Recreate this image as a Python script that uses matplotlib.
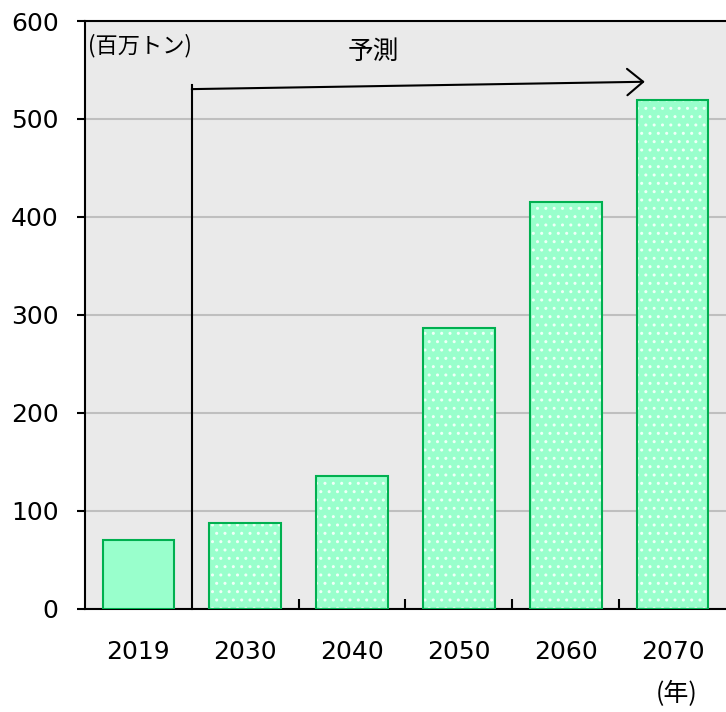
import matplotlib
matplotlib.use("Agg")
import matplotlib.pyplot as plt
import numpy as np

# data
years = ["2019", "2030", "2040", "2050", "2060", "2070"]
values = [70, 88, 136, 287, 415, 519]
forecast = [False, True, True, True, True, True]
yticks = [0, 100, 200, 300, 400, 500, 600]

jp = ["Noto Sans CJK JP", "DejaVu Sans"]
num = ["DejaVu Sans"]
plt.rcParams["font.family"] = jp
plt.rcParams["hatch.linewidth"] = 1.0

fig = plt.figure(figsize=(7.26, 7.12), dpi=100)
ax = fig.add_axes([0.117, 0.1447, 0.883, 0.8258])
ax.set_facecolor("#EAEAEA")

x = np.arange(len(years))
face = "#99FFCC"
edge = "#00B050"
for xi, v, f in zip(x, values, forecast):
    if f:
        ax.bar(xi, v, width=0.67, color=face, hatch="..", edgecolor="#F0FFF8",
               linewidth=0, zorder=2)
        ax.bar(xi, v, width=0.67, facecolor="none", edgecolor=edge,
               linewidth=1.5, zorder=3)
    else:
        ax.bar(xi, v, width=0.67, color=face, edgecolor=edge,
               linewidth=1.5, zorder=3)

ax.set_xlim(-0.5, len(years) - 0.5)
ax.set_ylim(0, 600)
ax.set_yticks(yticks)
ax.set_yticklabels([str(t) for t in yticks], fontsize=18, family=num)
ax.set_xticks(x)
ax.set_xticklabels(years, fontsize=18, family=num)
ax.tick_params(axis="x", which="major", length=0, pad=22)
ax.tick_params(axis="y", which="major", direction="out", length=6, width=1.5, pad=13)
ax.set_xticks(x[1:-1] + 0.5, minor=True)
ax.tick_params(axis="x", which="minor", direction="in", length=7, width=1.5)

ax.yaxis.grid(True, color="#BFBFBF", linewidth=1.5, zorder=1)
ax.set_axisbelow(True)
for s in ["left", "bottom", "top"]:
    ax.spines[s].set_linewidth(1.5)
    ax.spines[s].set_color("black")
ax.spines["right"].set_visible(False)

# forecast marker
ax.plot([0.5, 0.5], [0, 535], color="black", linewidth=1.5, zorder=4, clip_on=False)
ax.annotate("", xy=(4.74, 538), xytext=(0.5, 530.5),
            arrowprops=dict(arrowstyle="->,head_length=1.15,head_width=0.95",
                            color="black", lw=1.5, shrinkA=0, shrinkB=0), zorder=4)
ax.text(2.2, 568, "予測", fontsize=18.5, ha="center", va="center")
ax.text(-0.47, 575, "(百万トン)", fontsize=16, ha="left", va="center")
fig.text(677 / 726, 1 - 694 / 712, "(年)", fontsize=18, ha="center", va="center")

fig.savefig("out.png", dpi=100)
